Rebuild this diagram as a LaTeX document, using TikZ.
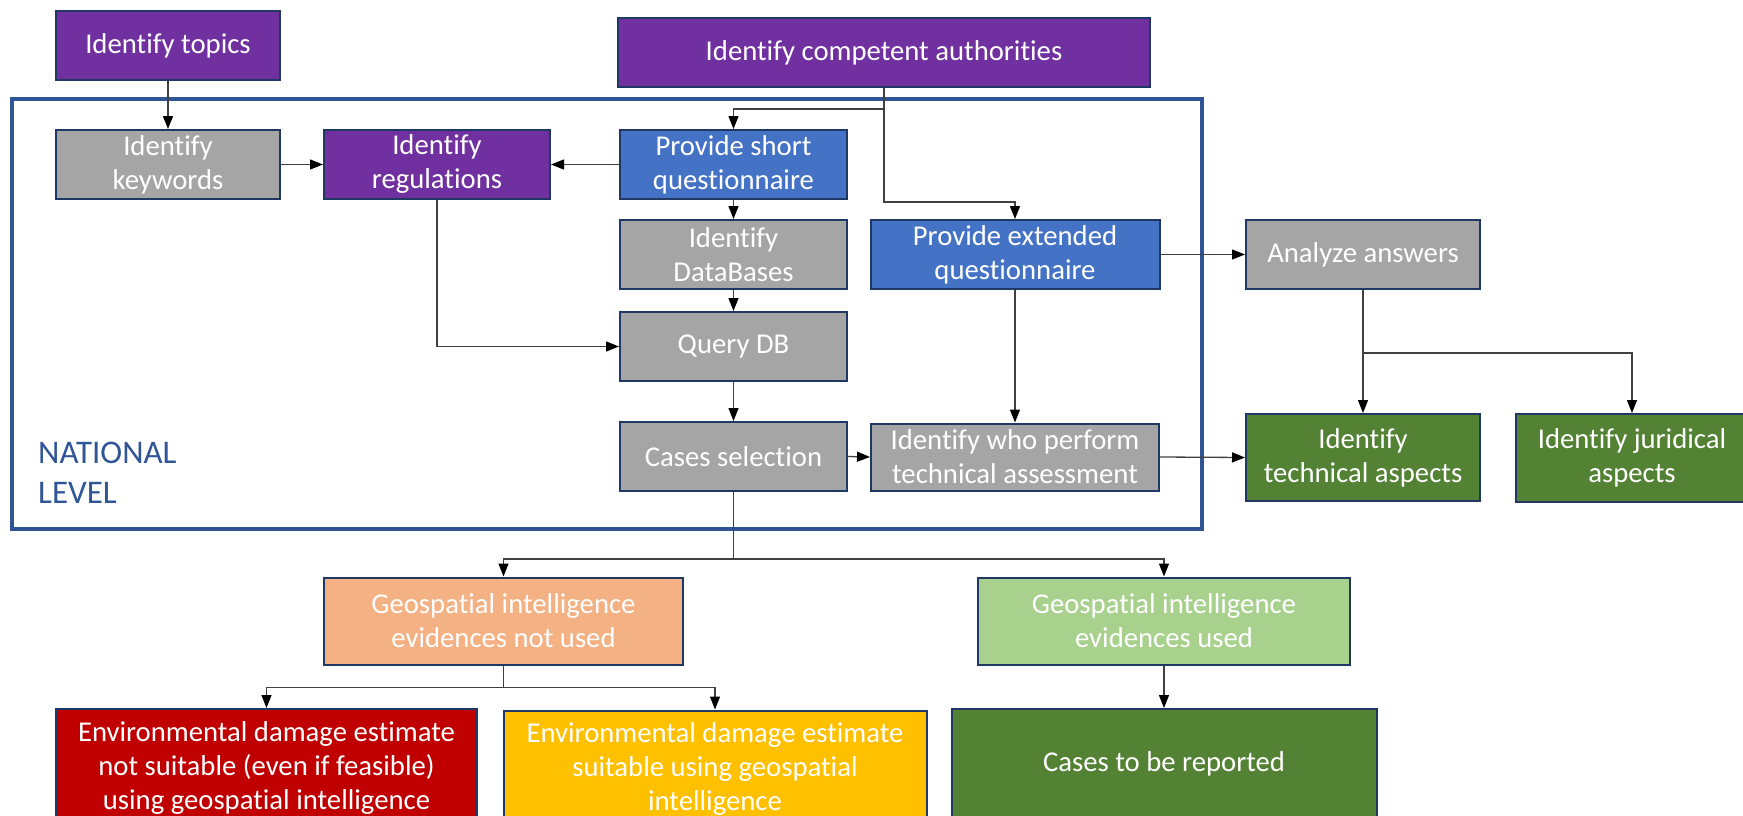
\documentclass[tikz,border=0pt]{standalone}
\usepackage{fontspec}
\setmainfont{Carlito}[Ligatures=NoCommon]
\usetikzlibrary{arrows.meta,calc}
\definecolor{cpurple}{HTML}{7030A0}
\definecolor{cgray}{HTML}{A5A5A5}
\definecolor{cblue}{HTML}{4472C4}
\definecolor{cgreen}{HTML}{548235}
\definecolor{corange}{HTML}{F4B183}
\definecolor{clgreen}{HTML}{A9D18E}
\definecolor{cred}{HTML}{C00000}
\definecolor{cyellow}{HTML}{FFC000}
\definecolor{cborder}{HTML}{203864}
\definecolor{cnat}{HTML}{2F5597}
\definecolor{cline}{HTML}{404040}
\tikzset{
  box/.style={draw=cborder, line width=2pt, text=white, align=center, inner sep=0pt,
    font=\fontsize{28.7}{34}\selectfont},
  arr/.style={draw=cline, line width=1.3pt, -{Triangle[length=13pt,width=10pt,fill=black,color=black]}},
  conn/.style={draw=cline, line width=1.3pt}
}
\begin{document}
\begin{tikzpicture}[x=1pt,y=-1pt]
\useasboundingbox (0,0) rectangle (1743,816);
% national level frame
\draw[cnat, line width=3.5pt] (12,99) rectangle (1202,529);
\node[anchor=base west, text=cnat, align=left, font=\fontsize{33}{40}\selectfont, inner sep=0pt] (natl) at (38,503) {NATIONAL\\LEVEL};
% nodes
\node[box, fill=cpurple, minimum width=224pt, minimum height=69pt] (topics) at (168,45.5) {Identify topics};
\node[box, fill=cpurple, minimum width=532pt, minimum height=69pt] (comp) at (884,52.5) {Identify competent authorities};
\node[box, fill=cgray, minimum width=224pt, minimum height=69pt] (keyw) at (168,164.5) {Identify\\keywords};
\node[box, fill=cpurple, minimum width=226pt, minimum height=69pt] (regs) at (437,164.5) {Identify\\regulations};
\node[box, fill=cblue, minimum width=227pt, minimum height=69pt] (shortq) at (733.5,164.5) {Provide short\\questionnaire};
\node[box, fill=cgray, minimum width=227pt, minimum height=69pt] (db) at (733.5,254.5) {Identify\\DataBases};
\node[box, fill=cgray, minimum width=227pt, minimum height=69pt] (query) at (733.5,346.5) {Query DB};
\node[box, fill=cgray, minimum width=227pt, minimum height=69pt] (cases) at (733.5,456.5) {Cases selection};
\node[box, fill=cblue, minimum width=289pt, minimum height=69pt] (extq) at (1015,254.5) {Provide extended\\questionnaire};
\node[box, fill=cgray, minimum width=288pt, minimum height=67pt] (who) at (1015,457) {Identify who perform\\technical assessment};
\node[box, fill=cgray, minimum width=234pt, minimum height=69pt] (anal) at (1363,254.5) {Analyze answers};
\node[box, fill=cgreen, minimum width=234pt, minimum height=87pt] (tech) at (1363,457.5) {Identify\\technical aspects};
\node[box, fill=cgreen, minimum width=233pt, minimum height=88pt] (jur) at (1632,458) {Identify juridical\\aspects};
\node[box, fill=corange, minimum width=359pt, minimum height=87pt] (geonot) at (503.5,621) {Geospatial intelligence\\evidences not used};
\node[box, fill=clgreen, minimum width=372pt, minimum height=87pt] (geoused) at (1164,621) {Geospatial intelligence\\evidences used};
\node[box, fill=cred, minimum width=421pt, minimum height=117pt] (red) at (266.5,767.5) {Environmental damage estimate\\not suitable (even if feasible)\\using geospatial intelligence};
\node[box, fill=cyellow, minimum width=423pt, minimum height=117pt] (yel) at (715,769) {Environmental damage estimate\\suitable using geospatial\\intelligence};
\node[box, fill=cgreen, minimum width=425pt, minimum height=110pt] (rep) at (1164,764) {Cases to be reported};
% connectors
\draw[arr] (topics.south) -- (keyw.north);
\draw[arr] (keyw.east) -- (regs.west);
\draw[arr] (shortq.west) -- (regs.east);
\draw[arr] (comp.south) -- ++(0,21) -| (shortq.north);
\draw[arr] (comp.south) |- ([yshift=17pt]extq.north) -- (extq.north);
\draw[arr] (shortq.south) -- (db.north);
\draw[arr] (db.south) -- (query.north);
\draw[arr] (regs.south) |- (query.west);
\draw[arr] (query.south) -- (cases.north);
\draw[arr] (cases.east) -- (who.west);
\draw[arr] (extq.south) -- (who.north);
\draw[arr] (extq.east) -- (anal.west);
\draw[arr] (who.east) -- (tech.west);
\draw[arr] (anal.south) -- (tech.north);
\draw[arr] (anal.south) -- ++(0,63) -| (jur.north);
\draw[arr] (cases.south) -- ++(0,67) -| (geonot.north);
\draw[arr] (cases.south) -- ++(0,67) -| (geoused.north);
\draw[arr] (geonot.south) -- ++(0,22) -| (red.north);
\draw[arr] (geonot.south) -- ++(0,22) -| (yel.north);
\draw[arr] (geoused.south) -- (rep.north);
\end{tikzpicture}
\end{document}
